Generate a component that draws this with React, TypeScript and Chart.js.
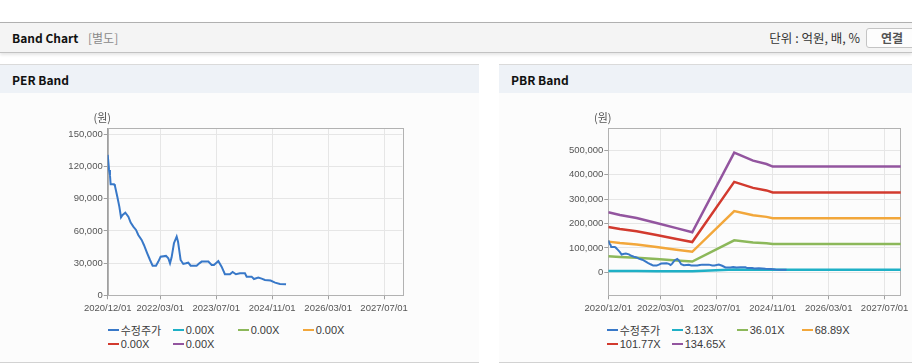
import React, { useEffect, useRef } from 'react';
import { Chart, registerables } from 'chart.js';

Chart.register(...registerables);

// ---------- data ----------
const xTickLabels = ['2020/12/01', '2022/03/01', '2023/07/01', '2024/11/01', '2026/03/01', '2027/07/01'];
const perAxisEnd = '2027/12/07';
const pbrAxisEnd = '2027/11/19';

const priceDates = [
  '2020/12/01', '2020/12/13', '2020/12/21', '2020/12/27', '2021/01/26', '2021/02/03', '2021/02/22', '2021/03/11',
  '2021/03/26', '2021/04/09', '2021/05/02', '2021/05/29', '2021/06/18', '2021/07/11', '2021/08/04', '2021/08/24',
  '2021/09/22', '2021/10/12', '2021/11/10', '2021/12/04', '2021/12/27', '2022/01/26', '2022/02/14', '2022/03/05',
  '2022/04/21', '2022/05/11', '2022/05/26', '2022/06/09', '2022/06/29', '2022/07/23', '2022/08/04', '2022/08/27',
  '2022/09/19', '2022/10/12', '2022/11/02', '2022/11/22', '2023/01/14', '2023/02/06', '2023/02/25', '2023/04/24',
  '2023/05/23', '2023/06/12', '2023/07/20', '2023/08/18', '2023/09/16', '2023/10/30', '2023/11/22', '2023/12/21',
  '2024/01/26', '2024/03/08', '2024/03/23', '2024/05/05', '2024/05/26', '2024/07/02', '2024/08/01', '2024/08/30',
  '2024/10/18', '2024/11/26', '2025/01/08', '2025/02/28',
];
const priceValues = [
  130800, 116800, 112100, 103400, 103400, 101900, 91900, 82600,
  72700, 74900, 77000, 73300, 67700, 64000, 60900, 56200,
  51600, 46900, 39100, 32900, 27600, 27600, 31400, 36000,
  36700, 34500, 29800, 35400, 48500, 54700, 50000, 32900,
  29200, 29800, 30400, 27600, 27600, 29800, 31400, 31400,
  28300, 28300, 32000, 26700, 19600, 19600, 21700, 19600,
  20500, 20500, 17400, 17400, 15200, 16500, 15500, 14300,
  13700, 11800, 10600, 10200,
];

const bandDates = [
  '2020/12/01', '2021/03/11', '2021/08/04', '2022/01/25', '2022/07/16', '2022/12/01',
  '2023/12/01', '2024/05/13', '2024/09/08', '2024/11/01', '2027/11/30',
];
const pbrBand1 = [5712, 5462, 5180, 4695, 4210, 3819, 11399, 10642, 10320, 10072, 10072];
const pbrBand2 = [65718, 62837, 59597, 54015, 48433, 43932, 131148, 122434, 118726, 115880, 115880];
const pbrBand3 = [125724, 120213, 114013, 103335, 92657, 84046, 250897, 234226, 227130, 221688, 221688];
const pbrBand4 = [185730, 177589, 168429, 152655, 136881, 124159, 370646, 346018, 335535, 327496, 327496];
const pbrBand5 = [245736, 234964, 222846, 201975, 181104, 164273, 490395, 457810, 443941, 433304, 433304];

const perLegendLabels = ['수정주가', '0.00X', '0.00X', '0.00X', '0.00X', '0.00X'];
const pbrLegendLabels = ['수정주가', '3.13X', '36.01X', '68.89X', '101.77X', '134.65X'];
const seriesColors = ['#3878c8', '#1fb0c6', '#8cb85a', '#f2a73b', '#d23a2e', '#93559f'];

const perYTicks = [0, 30000, 60000, 90000, 120000, 150000];
const perYRange = [0, 155600];
const pbrYTicks = [0, 100000, 200000, 300000, 400000, 500000];
const pbrYRange = [-94300, 590200];
const yUnitLabel = '(원)';

// ---------- helpers ----------
function toMonths(s: string): number {
  const [y, m, d] = s.split('/').map(Number);
  const dim = new Date(y, m, 0).getDate();
  return (y - 2020) * 12 + (m - 12) + (d - 1) / dim;
}
const xTickValues = xTickLabels.map(toMonths);

function pts(dates: string[], vals: number[]) {
  return dates.map((d, i) => ({ x: toMonths(d), y: vals[i] }));
}

const TICK_FONT = { family: "'Liberation Sans', Arial, sans-serif", size: 9.5 };
const UI_FONT = "'Noto Sans CJK KR', 'Noto Sans', sans-serif";

const frameAndUnit = {
  id: 'frameAndUnit',
  beforeDatasetsDraw(chart: any) {
    const { ctx, chartArea: a } = chart;
    ctx.save();
    ctx.strokeStyle = '#b2b2b2';
    ctx.lineWidth = 1;
    ctx.strokeRect(Math.round(a.left) + 0.5, Math.round(a.top) + 0.5, Math.round(a.right - a.left), Math.round(a.bottom - a.top));
    ctx.restore();
  },
  afterDraw(chart: any) {
    const { ctx, chartArea: a } = chart;
    ctx.save();
    ctx.fillStyle = '#555';
    ctx.font = `11px ${UI_FONT}`;
    ctx.textAlign = 'center';
    ctx.textBaseline = 'middle';
    ctx.fillText(yUnitLabel, a.left - 5.5, a.top - 10.6);
    ctx.restore();
  },
};

function makeConfig(datasets: any[], yTicks: number[], yRange: number[], xEnd: string, yAxisWidth: number, padRight: number): any {
  return {
    type: 'line',
    data: { datasets },
    plugins: [frameAndUnit],
    options: {
      animation: false,
      responsive: false,
      events: [],
      layout: { padding: { top: 34.3, right: padRight, bottom: 0, left: 0 } },
      plugins: { legend: { display: false }, tooltip: { enabled: false } },
      elements: { point: { radius: 0 }, line: { tension: 0 } },
      scales: {
        x: {
          type: 'linear',
          min: 0,
          max: toMonths(xEnd),
          afterBuildTicks: (s: any) => { s.ticks = xTickValues.map((v) => ({ value: v })); },
          afterFit: (s: any) => { s.height = 24.7; },
          ticks: {
            autoSkip: false, maxRotation: 0, padding: 3, color: '#555', font: TICK_FONT,
            callback: (v: number) => { const i = xTickValues.findIndex((t) => Math.abs(t - v) < 1e-6); return i >= 0 ? xTickLabels[i] : ''; },
          },
          grid: { color: '#e6e6e6', tickColor: '#a0a0a0', tickLength: 4 },
          border: { color: '#a0a0a0' },
        },
        y: {
          min: yRange[0],
          max: yRange[1],
          afterBuildTicks: (s: any) => { s.ticks = yTicks.map((v) => ({ value: v })); },
          afterFit: (s: any) => { s.width = yAxisWidth; },
          ticks: { padding: 1, color: '#555', font: TICK_FONT, callback: (v: number) => v.toLocaleString('en-US') },
          grid: { color: '#e6e6e6', tickColor: '#a0a0a0', tickLength: 4 },
          border: { color: '#a0a0a0' },
        },
      },
    },
  };
}

function ChartCanvas({ config, left, width }: { config: () => any; left: number; width: number }) {
  const ref = useRef<HTMLCanvasElement>(null);
  useEffect(() => {
    const chart = new Chart(ref.current as HTMLCanvasElement, config());
    return () => chart.destroy();
  }, []);
  return <canvas ref={ref} width={width} height={226} style={{ position: 'absolute', left, top: 94, width, height: 226 }} />;
}

function Legend({ labels, left }: { labels: string[]; left: number }) {
  return (
    <>
      {labels.map((lab, i) => {
        const row = Math.floor(i / 4);
        const col = i % 4;
        return (
          <div key={i} style={{ position: 'absolute', left: left + col * 65, top: 323.5 + row * 13.5, height: 13, display: 'flex', alignItems: 'center', whiteSpace: 'nowrap' }}>
            <span style={{ display: 'inline-block', width: 11, height: 2, background: seriesColors[i], marginRight: 2 }} />
            <span style={{ fontSize: 11, color: '#3a3a3a', fontFamily: "'Liberation Sans', Arial, 'Noto Sans CJK KR', sans-serif" }}>{lab}</span>
          </div>
        );
      })}
    </>
  );
}

function Panel({ left, width, title }: { left: number; width: number; title: string }) {
  return (
    <div style={{ position: 'absolute', left, top: 64, width, height: 297, borderTop: '1px solid #dadada', borderBottom: '1px solid #d2d2d2', background: '#fcfcfc' }}>
      <div style={{ position: 'absolute', left: 0, top: 0, width, height: 28, background: '#eef2f7' }}>
        <div style={{ position: 'absolute', left: 12, top: 0, height: 28, lineHeight: '30px', fontSize: 12, fontWeight: 700, color: '#111', fontFamily: UI_FONT }}>{title}</div>
      </div>
    </div>
  );
}

export default function App() {
  const perConfig = () => {
    const ds = perLegendLabels.map((lab, i) => ({
      label: lab,
      data: i === 0 ? pts(priceDates, priceValues) : [],
      borderColor: seriesColors[i],
      backgroundColor: seriesColors[i],
      borderWidth: 2,
      fill: false,
    }));
    return makeConfig(ds, perYTicks, perYRange, perAxisEnd, 107.7, 76.7);
  };
  const pbrConfig = () => {
    const bands = [pbrBand1, pbrBand2, pbrBand3, pbrBand4, pbrBand5];
    const ds = pbrLegendLabels.map((lab, i) => ({
      label: lab,
      data: i === 0 ? pts(priceDates, priceValues) : pts(bandDates, bands[i - 1]),
      borderColor: seriesColors[i],
      backgroundColor: seriesColors[i],
      borderWidth: i === 0 ? 2 : 2.5,
      fill: false,
    }));
    return makeConfig(ds, pbrYTicks, pbrYRange, pbrAxisEnd, 109.3, 11);
  };

  return (
    <div style={{ position: 'absolute', left: 0, top: 0, width: 912, height: 364, overflow: 'hidden', background: '#fff', fontFamily: UI_FONT }}>
      <div style={{ position: 'absolute', left: 0, top: 22, width: 912, height: 29, borderTop: '1px solid #b0b0b0', borderBottom: '1px solid #c2c2c2', background: '#f4f4f4', boxShadow: '0 2px 3px rgba(0,0,0,0.10)' }}>
        <div style={{ position: 'absolute', left: 12, top: 0, lineHeight: '30px', fontSize: 12, fontWeight: 700, color: '#111' }}>Band Chart</div>
        <div style={{ position: 'absolute', left: 88, top: 0, lineHeight: '30px', fontSize: 12, color: '#8a8a8a' }}>[별도]</div>
        <div style={{ position: 'absolute', right: 52, top: 0, lineHeight: '30px', fontSize: 12.5, color: '#333' }}>단위 : 억원, 배, %</div>
        <div style={{ position: 'absolute', left: 866, top: 5, width: 50, height: 18, border: '1px solid #c4c4c4', borderRadius: 3, background: '#fdfdfd', textAlign: 'center', lineHeight: '18px', fontSize: 12, fontWeight: 700, color: '#555' }}>연결</div>
      </div>
      <Panel left={0} width={479} title="PER Band" />
      <Panel left={499} width={413} title="PBR Band" />
      <ChartCanvas config={perConfig} left={0} width={479} />
      <ChartCanvas config={pbrConfig} left={499} width={413} />
      <Legend labels={perLegendLabels} left={107.7} />
      <Legend labels={pbrLegendLabels} left={606.7} />
    </div>
  );
}
